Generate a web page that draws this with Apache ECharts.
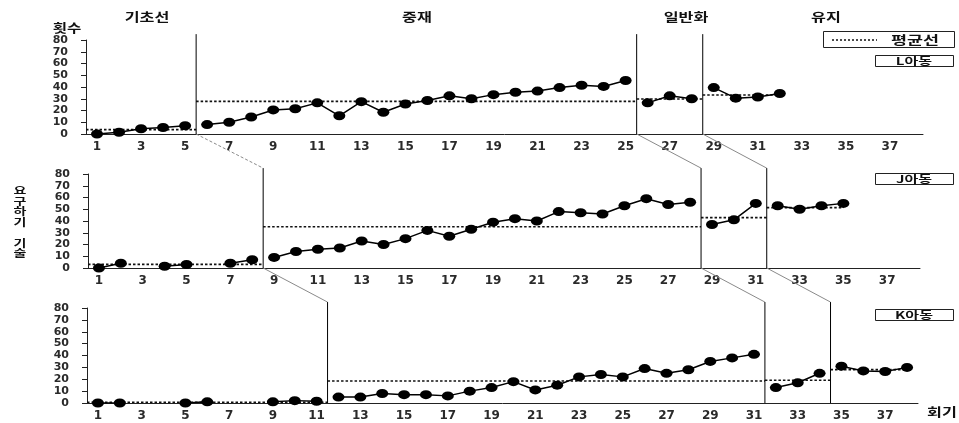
<!DOCTYPE html>
<html>
<head>
<meta charset="utf-8">
<script src="https://cdn.jsdelivr.net/npm/echarts/dist/echarts.min.js"></script>
<style>
  html, body { margin: 0; padding: 0; background: #fff; }
  #chart { width: 959px; height: 423px; }
</style>
</head>
<body>
<div id="chart"></div>
<script>
// Session numbers on the x axis
const sessions = ['1','2','3','4','5','6','7','8','9','10','11','12','13','14','15','16','17','18','19',
  '20','21','22','23','24','25','26','27','28','29','30','31','32','33','34','35','36','37','38'];

// Phase titles
const phaseNames = ['기초선', '중재', '일반화', '유지'];

// L아동: frequencies per phase
const lBaseline     = [0, 1.5, 4.5, 5.5, 7];
const lIntervention = [8, 10, 14.5, 20.5, 21.5, 26.5, 15.5, 27.5, 18.5, 25.5, 28.5, 32.5, 30, 33.5, 35.5, 36.5, 39.5, 41.5, 40.5, 45.5];
const lGeneral      = [26.5, 32.5, 30];
const lMaintain     = [39.5, 30.5, 31.5, 34.5];
const lStarts       = [1, 6, 26, 29];
const lMeans        = [3.7, 27.8, 29.8, 33.2];

// J아동
const jBaseline     = [0, 4, null, 1.5, 3, null, 4, 7];
const jIntervention = [9, 14, 16, 17, 23, 20, 25, 32, 27, 33, 39, 42, 40, 48, 47, 46, 53, 59, 54, 56];
const jGeneral      = [37, 41, 55];
const jMaintain     = [53, 50, 53, 55];
const jStarts       = [1, 9, 29, 32];
const jMeans        = [3.1, 35.1, 42.9, 51.4];

// K아동
const kBaseline     = [0, 0, null, null, 0, 1, null, null, 1, 2, 1.5];
const kIntervention = [5, 5, 8, 7, 7, 6, 10, 13, 18, 11, 15, 22, 24, 22, 29, 25, 28, 35, 38, 41];
const kGeneral      = [13, 17, 25];
const kMaintain     = [31, 27, 26.5, 30];
const kStarts       = [1, 12, 32, 35];
const kMeans        = [0.6, 18.5, 19.1, 28.1];

// Y axis ticks
const yMin = 0, yMax = 80, yStep = 10;
// Height the phase-change lines reach
const phaseTop = 85;

const panels = [
  { label: 'L아동', phases: [lBaseline, lIntervention, lGeneral, lMaintain], starts: lStarts, means: lMeans },
  { label: 'J아동', phases: [jBaseline, jIntervention, jGeneral, jMaintain], starts: jStarts, means: jMeans },
  { label: 'K아동', phases: [kBaseline, kIntervention, kGeneral, kMaintain], starts: kStarts, means: kMeans }
];

const grids = [
  { left: 86, top: 40,  width: 837, height: 94 },
  { left: 88, top: 174, width: 832, height: 94 },
  { left: 87, top: 308, width: 831, height: 95 }
];

const numFont = '"DejaVu Sans", Verdana, sans-serif';
const krFont = '"Noto Sans CJK KR", "Noto Sans", sans-serif';
const n = sessions.length;

const xAxes = [], yAxes = [], series = [];
grids.forEach((g, gi) => {
  xAxes.push({
    type: 'category', gridIndex: gi, data: sessions, boundaryGap: true,
    axisLine: { lineStyle: { color: '#222', width: 1 } },
    axisTick: { interval: 0, length: 4, lineStyle: { color: '#222' } },
    axisLabel: { interval: 1, margin: 7, color: '#2a2a2a', fontFamily: numFont, fontWeight: 'bold', fontSize: 12 },
    splitLine: { show: false }
  });
  yAxes.push({
    type: 'value', gridIndex: gi, min: yMin, max: yMax, interval: yStep,
    axisLine: { show: true, lineStyle: { color: '#222', width: 1 } },
    axisTick: { show: true, length: 5, lineStyle: { color: '#222' } },
    axisLabel: { margin: 18, color: '#2a2a2a', fontFamily: numFont, fontWeight: 'bold', fontSize: 11,
                 lineHeight: 10, showMinLabel: true, showMaxLabel: true, hideOverlap: false },
    splitLine: { show: false }
  });
});
// Hidden continuous axes sharing each grid, for phase boundaries and mean lines
grids.forEach((g, gi) => {
  xAxes.push({ type: 'value', gridIndex: gi, min: 0.5, max: n + 0.5, show: false });
});

const phaseLineSeries = [];
panels.forEach((p, gi) => {
  const xIdx = grids.length + gi;
  const lastSession = p.starts[3] + p.phases[3].length - 1;
  // mean lines
  p.means.forEach((m, k) => {
    const x0 = k === 0 ? 0.5 : p.starts[k] - 0.5;
    const x1 = k === 3 ? lastSession : p.starts[k + 1] - 0.5;
    series.push({
      type: 'line', xAxisIndex: xIdx, yAxisIndex: gi, silent: true, symbol: 'none', z: 2,
      lineStyle: { color: '#111', width: 1.6, type: [2.5, 2] },
      data: [[x0, m], [x1, m]]
    });
  });
  // phase change lines
  for (let k = 1; k < 4; k++) {
    const xb = p.starts[k] - 0.5;
    phaseLineSeries.push({ panel: gi, k: k, index: series.length, x: xb });
    series.push({
      type: 'line', xAxisIndex: xIdx, yAxisIndex: gi, silent: true, symbol: 'none', clip: false, z: 3,
      lineStyle: { color: '#000', width: 1 },
      data: [[xb, 0], [xb, phaseTop]]
    });
  }
  // data points per phase
  p.phases.forEach((vals, k) => {
    series.push({
      type: 'line', xAxisIndex: xIdx, yAxisIndex: gi, z: 5,
      symbol: 'circle', symbolSize: [12, 9], showSymbol: true,
      itemStyle: { color: '#000' },
      lineStyle: { color: '#000', width: 1.5 },
      data: vals.map((v, i) => [p.starts[k] + i, v === null ? '-' : v])
    });
  });
});

const chart = echarts.init(document.getElementById('chart'), null, { renderer: 'canvas' });

function krText(x, y, text, size, sx, align) {
  return {
    type: 'text', x: x, y: y, scaleX: sx || 1, silent: true, z: 10,
    style: { x: 0, y: 0, text: text, fill: '#111', font: 'bold ' + size + 'px ' + krFont,
             align: align || 'center', verticalAlign: 'middle' }
  };
}

const graphics = [];
// phase titles
const titleX = [147, 417, 686, 826];
phaseNames.forEach((t, i) => graphics.push(krText(titleX[i], 17, t, 12, 1.35)));
// y axis captions
graphics.push(krText(67, 28, '횟수', 12, 1.3));
graphics.push({
  type: 'text', x: 20, y: 185, scaleX: 1.4, silent: true,
  style: { x: 0, y: 0, text: '요\n구\n하\n기\n\n기\n술', fill: '#111', font: 'bold 10px ' + krFont,
           align: 'center', verticalAlign: 'top', lineHeight: 10.5 }
});
graphics.push(krText(927, 412, '회기', 12, 1.35, 'left'));
// legend box for the mean line
graphics.push({ type: 'rect', shape: { x: 823.5, y: 31.5, width: 131, height: 16 }, silent: true,
  style: { fill: '#fff', stroke: '#222', lineWidth: 1 } });
graphics.push({ type: 'line', shape: { x1: 832, y1: 40, x2: 877, y2: 40 }, silent: true,
  style: { stroke: '#111', lineWidth: 1.5, lineDash: [2, 2] } });
graphics.push(krText(915, 40, '평균선', 12, 1.45));
// child labels
const boxTops = [55.5, 173.5, 309.5];
panels.forEach((p, i) => {
  graphics.push({ type: 'rect', shape: { x: 875.5, y: boxTops[i], width: 78, height: 11 }, silent: true,
    style: { fill: '#fff', stroke: '#222', lineWidth: 1 } });
  graphics.push(krText(914, boxTops[i] + 6, p.label, 10, 1.5));
});

chart.setOption({
  animation: false,
  backgroundColor: '#fff',
  grid: grids.map(g => Object.assign({ containLabel: false }, g)),
  xAxis: xAxes,
  yAxis: yAxes,
  series: series,
  graphic: graphics
});

// connectors between phase-change lines of consecutive panels
const connectors = [];
for (let gi = 0; gi < panels.length - 1; gi++) {
  for (let k = 1; k < 4; k++) {
    const a = phaseLineSeries.find(s => s.panel === gi && s.k === k);
    const b = phaseLineSeries.find(s => s.panel === gi + 1 && s.k === k);
    const p0 = chart.convertToPixel({ seriesIndex: a.index }, [a.x, 0]);
    const p1 = chart.convertToPixel({ seriesIndex: b.index }, [b.x, phaseTop]);
    connectors.push({
      type: 'line', silent: true, z: 1,
      shape: { x1: p0[0], y1: p0[1], x2: p1[0], y2: p1[1] },
      style: { stroke: '#8a8a8a', lineWidth: 1, lineDash: (gi === 0 && k === 1) ? [3, 2] : null }
    });
  }
}
chart.setOption({ graphic: graphics.concat(connectors) });
</script>
</body>
</html>
